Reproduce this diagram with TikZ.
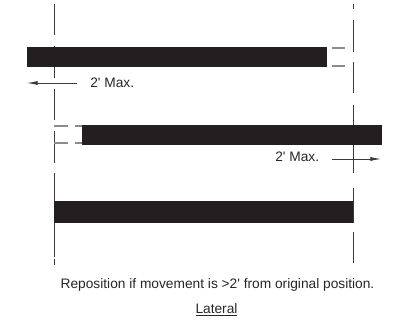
\documentclass[tikz,border=0pt]{standalone}
\usepackage{fontspec}
\setmainfont{Liberation Sans}
\usetikzlibrary{arrows.meta}
\definecolor{barblack}{HTML}{231F20}
\definecolor{guide}{HTML}{3A3A3A}
\definecolor{ghost}{HTML}{8C8C8C}
\begin{document}
\begin{tikzpicture}[x=0.75pt,y=-0.75pt,
  bar/.style={fill=barblack},
  guideline/.style={draw=guide,line width=0.6pt},
  ghostline/.style={draw=ghost,line width=0.9pt},
  move/.style={draw=guide,line width=0.6pt,-{Latex[length=8pt,width=3pt]}},
  every node/.style={font=\fontsize{10.3}{12}\selectfont,inner sep=0,text=black!85}]
\useasboundingbox (0,0) rectangle (393,328);

% original position lines
\foreach \a/\b in {4/35,46/78,89/120,131/163,173/257,259/265}
  \draw [guideline] (54,\a) -- (54,\b);
\foreach \a/\b in {4/9,20/52,62/93,105/173,188/223,232/263}
  \draw [guideline] (353,\a) -- (353,\b);

% bars
\fill [bar] (27,47) rectangle (327,67);
\fill [bar] (82,125) rectangle (382,145);
\fill [bar] (54,201) rectangle (353,223);

% ghost ends
\draw [ghostline] (332,48) -- (345,48);
\draw [ghostline] (332,66) -- (345,66);
\foreach \y in {126,143} {
  \draw [ghostline] (54,\y) -- (68,\y);
  \draw [ghostline] (75,\y) -- (82,\y);
}

% movement arrows
\coordinate (l1) at (77,83);
\coordinate (l1tip) at (27,83);
\coordinate (r1) at (332,159);
\coordinate (r1tip) at (381,159);
\draw [move] (l1) -- (l1tip);
\draw [move] (r1) -- (r1tip);

\node [anchor=west] (maxl) at (90,83) {2\textquotesingle{} Max.};
\node [anchor=west] (maxr) at (275,157) {2\textquotesingle{} Max.};

\node (note) at (217.5,285) {Reposition if movement is >2\textquotesingle{} from original position.};
\node (title) at (216.5,310) {\underline{Lateral}};
\end{tikzpicture}
\end{document}
